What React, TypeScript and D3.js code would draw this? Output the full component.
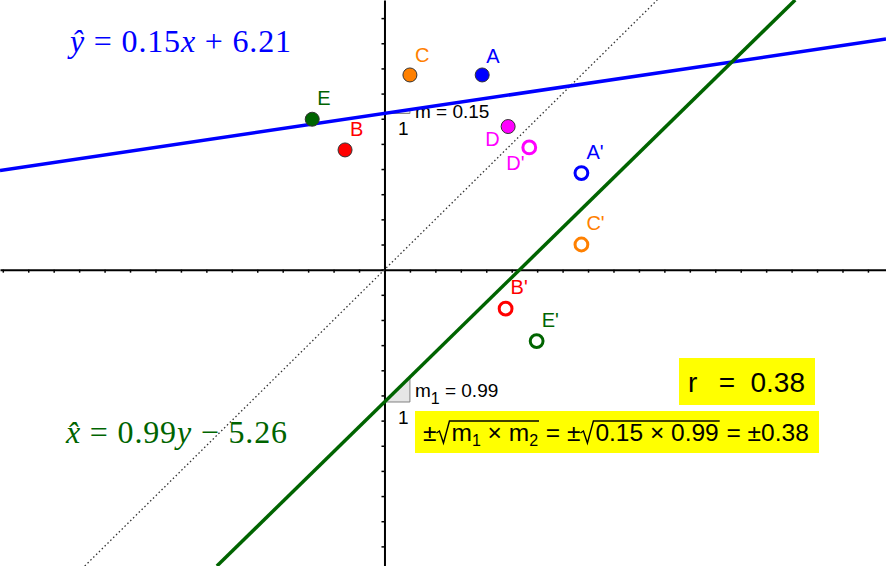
import { useEffect, useRef } from 'react'
import * as d3 from 'd3'

const W = 886
const H = 566

// visible window of the graphics view (units)
const xView = [-15.11, 19.71]
const yView = [-11.78, 10.72]

const pointNames = ['A', 'B', 'C', 'D', 'E']
const pointX = [3.84, -1.55, 1.0, 4.86, -2.84]
const pointY = [7.74, 4.76, 7.74, 5.69, 5.98]
const pointColors = ['#0000ff', '#ff0000', '#ff8000', '#ff00ff', '#006400']

// regression of y on x, and of x on y (drawn reflected in y = x)
const yOnXSlope = 0.15
const yOnXIntercept = 6.21
const xOnYSlope = 0.99
const xOnYIntercept = -5.26
const rValue = 0.38

// label offsets (px) for originals and reflected points
const labelOffset = [[4, -12], [5, -14], [5, -13], [-23, 19], [5, -14]]
const primeOffset = [[5, -14], [5, -15], [5, -15], [-23, 23], [5, -14]]

const SANS = 'Liberation Sans, Arial, sans-serif'
const SERIF = 'Liberation Serif, Times New Roman, serif'
const SP = '\u00A0'

export default function App() {
  const svgRef = useRef<SVGSVGElement>(null)

  useEffect(() => {
    if (!svgRef.current) return
    const svg = d3.select(svgRef.current)
    svg.selectAll('*').remove()

    const x = d3.scaleLinear().domain(xView).range([0, W])
    const y = d3.scaleLinear().domain(yView).range([H, 0])

    svg.append('rect').attr('width', W).attr('height', H).attr('fill', '#fff')

    // axes
    const xTicks = d3.range(Math.ceil(xView[0]), Math.floor(xView[1]) + 1)
    const yTicks = d3.range(Math.ceil(yView[0]), Math.floor(yView[1]) + 1)

    svg.append('g')
      .attr('transform', `translate(0,${y(0)})`)
      .call(d3.axisBottom(x).tickValues(xTicks).tickSize(3).tickSizeOuter(0).tickFormat(() => ''))
      .call(g => g.select('.domain').attr('stroke', '#000').attr('stroke-width', 2))
      .call(g => g.selectAll('.tick line').attr('stroke', '#000').attr('stroke-width', 1.5))

    svg.append('g')
      .attr('transform', `translate(${x(0)},0)`)
      .call(d3.axisLeft(y).tickValues(yTicks).tickSize(3).tickSizeOuter(0).tickFormat(() => ''))
      .call(g => g.select('.domain').attr('stroke', '#000').attr('stroke-width', 2))
      .call(g => g.selectAll('.tick line').attr('stroke', '#000').attr('stroke-width', 1.5))

    // y = x mirror line
    svg.append('line')
      .attr('x1', x(yView[0])).attr('y1', y(yView[0]))
      .attr('x2', x(yView[1])).attr('y2', y(yView[1]))
      .attr('stroke', '#333')
      .attr('stroke-width', 1.3)
      .attr('stroke-dasharray', '1.5 2.5')

    // slope triangles
    const slopeTri = (m: number, b: number, ly: number, sub: string) => {
      const pts: [number, number][] = [[0, b], [1, b], [1, b + m]]
      svg.append('path')
        .attr('d', d3.line()(pts.map(p => [x(p[0]), y(p[1])]) as [number, number][]) + 'Z')
        .attr('fill', '#e6e6e6')
        .attr('stroke', '#808080')
        .attr('stroke-width', 1)
      svg.append('text')
        .attr('x', (x(0) + x(1)) / 2 + 6)
        .attr('y', y(b) + 22)
        .attr('text-anchor', 'middle')
        .style('font-family', SANS)
        .style('font-size', '19px')
        .text('1')
      const t = svg.append('text')
        .attr('x', x(1) + 5)
        .attr('y', y(b) + ly)
        .style('font-family', SANS)
        .style('font-size', '19px')
      t.append('tspan').text('m')
      if (sub) {
        t.append('tspan').attr('dy', 7).style('font-size', '16px').text(sub)
        t.append('tspan').attr('dy', -7).text(`${SP}=${SP}${m.toFixed(2)}`)
      } else {
        t.append('tspan').text(`${SP}=${SP}${m.toFixed(2)}`)
      }
    }
    slopeTri(yOnXSlope, yOnXIntercept, 5, '')
    slopeTri(xOnYSlope, xOnYIntercept, -5, '1')

    // regression lines
    svg.append('line')
      .attr('x1', x(xView[0])).attr('y1', y(yOnXSlope * xView[0] + yOnXIntercept))
      .attr('x2', x(xView[1])).attr('y2', y(yOnXSlope * xView[1] + yOnXIntercept))
      .attr('stroke', '#0000ff')
      .attr('stroke-width', 3.5)

    const gx0 = (yView[0] - xOnYIntercept) / xOnYSlope
    const gx1 = (yView[1] - xOnYIntercept) / xOnYSlope
    svg.append('line')
      .attr('x1', x(gx0)).attr('y1', y(yView[0]))
      .attr('x2', x(gx1)).attr('y2', y(yView[1]))
      .attr('stroke', '#006400')
      .attr('stroke-width', 3.5)

    // points and their reflections
    pointNames.forEach((name, i) => {
      const px = x(pointX[i]), py = y(pointY[i])
      const qx = x(pointY[i]), qy = y(pointX[i])
      svg.append('circle')
        .attr('cx', px).attr('cy', py).attr('r', 7)
        .attr('fill', pointColors[i])
        .attr('stroke', '#333').attr('stroke-width', 1)
      svg.append('circle')
        .attr('cx', qx).attr('cy', qy).attr('r', 6.4)
        .attr('fill', '#fff')
        .attr('stroke', pointColors[i]).attr('stroke-width', 3)
      svg.append('text')
        .attr('x', px + labelOffset[i][0]).attr('y', py + labelOffset[i][1])
        .attr('fill', pointColors[i])
        .style('font-family', SANS).style('font-size', '20px')
        .text(name)
      svg.append('text')
        .attr('x', qx + primeOffset[i][0]).attr('y', qy + primeOffset[i][1])
        .attr('fill', pointColors[i])
        .style('font-family', SANS).style('font-size', '20px')
        .text(name + "'")
    })

    // regression equations
    const eq1 = svg.append('text')
      .attr('x', 70).attr('y', 52)
      .attr('fill', '#0000ff')
      .style('font-family', SERIF).style('font-size', '32px')
      .attr('textLength', 221).attr('lengthAdjust', 'spacing')
    eq1.append('tspan').style('font-style', 'italic').text('ŷ')
    eq1.append('tspan').text(`${SP}=${SP}${yOnXSlope}`)
    eq1.append('tspan').style('font-style', 'italic').text('x')
    eq1.append('tspan').text(`${SP}+${SP}${yOnXIntercept}`)

    const eq2 = svg.append('text')
      .attr('x', 66).attr('y', 443)
      .attr('fill', '#006400')
      .style('font-family', SERIF).style('font-size', '32px')
      .attr('textLength', 221).attr('lengthAdjust', 'spacing')
    eq2.append('tspan').style('font-style', 'italic').text('x\u0302')
    eq2.append('tspan').text(`${SP}=${SP}${xOnYSlope}`)
    eq2.append('tspan').style('font-style', 'italic').text('y')
    eq2.append('tspan').text(`${SP}\u2212${SP}${Math.abs(xOnYIntercept)}`)

    // r box
    svg.append('rect')
      .attr('x', 679).attr('y', 358).attr('width', 136).attr('height', 47)
      .attr('fill', '#ffff00')
    const rg = svg.append('g').style('font-family', SANS).style('font-size', '28px')
    rg.append('text').attr('x', 688).attr('y', 392).text('r')
    rg.append('text').attr('x', 727).attr('y', 392).attr('text-anchor', 'middle').text('=')
    rg.append('text').attr('x', 805).attr('y', 392).attr('text-anchor', 'end').text(`${rValue}`)

    // sqrt formula box
    const fg = svg.append('g').style('font-family', SANS)
    const fb = 441
    const fs = 24.5
    let cx = 423
    const add = (t: string, size = fs, dy = 0) => {
      const el = fg.append('text').attr('x', cx).attr('y', fb + dy).style('font-size', `${size}px`).text(t)
      cx += (el.node() as SVGTextElement).getComputedTextLength()
    }
    const radical = (content: () => void) => {
      const x0 = cx
      cx += 13
      const start = cx
      cx += 2
      content()
      cx += 1
      fg.append('path')
        .attr('d', `M${x0},${fb - 8} L${x0 + 3},${fb - 10} L${x0 + 7},${fb + 2} L${start},${fb - 20} H${cx}`)
        .attr('fill', 'none')
        .attr('stroke', '#000')
        .attr('stroke-width', 1.4)
    }
    add('±')
    radical(() => {
      add('m'); add('1', 16, 5); add(`${SP}×${SP}`); add('m'); add('2', 16, 5)
    })
    add(`${SP}=${SP}±`)
    radical(() => { add(`${yOnXSlope}${SP}×${SP}${xOnYSlope}`) })
    add(`${SP}=${SP}±${rValue}`)
    fg.insert('rect', ':first-child')
      .attr('x', 415).attr('y', 411).attr('width', Math.max(404, cx - 415 + 10)).attr('height', 42)
      .attr('fill', '#ffff00')
  }, [])

  return (
    <div style={{ position: 'absolute', left: 0, top: 0 }}>
      <svg ref={svgRef} width={W} height={H}></svg>
    </div>
  )
}
